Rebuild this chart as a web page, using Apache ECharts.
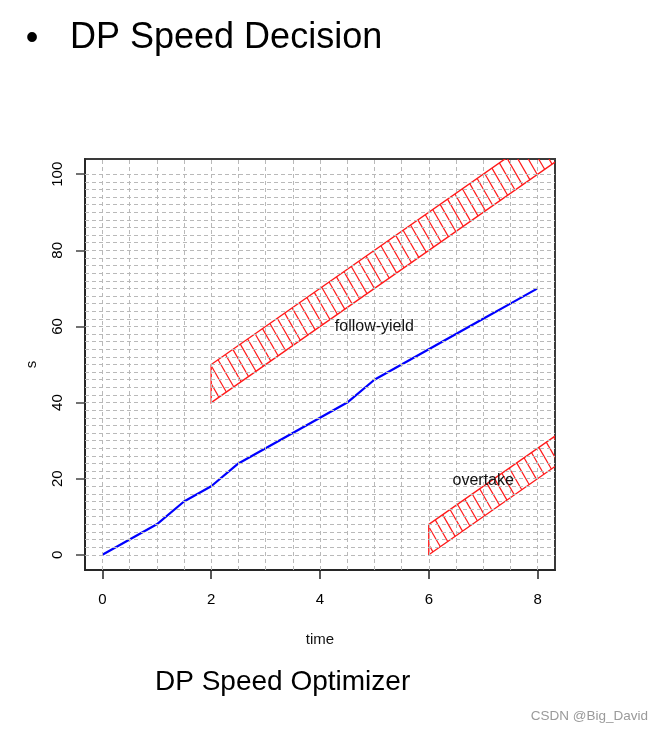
<!DOCTYPE html>
<html>
<head>
<meta charset="utf-8">
<script src="https://cdn.jsdelivr.net/npm/echarts@6/dist/echarts.min.js"></script>
<style>
  html, body { margin: 0; padding: 0; background: #fff; }
  #chart { width: 662px; height: 733px; }
</style>
</head>
<body>
<div id="chart"></div>
<script>
// ---- data ----
const timeVals = [0, 0.5, 1, 1.5, 2, 2.5, 3, 3.5, 4, 4.5, 5, 5.5, 6, 6.5, 7, 7.5, 8];
const sVals    = [0, 4, 8, 14, 18, 24, 28, 32, 36, 40, 46, 50, 54, 58, 62, 66, 70];

const followYieldT     = [2, 10];
const followYieldLower = [40, 120];
const followYieldUpper = [50, 130];

const overtakeT     = [6, 10];
const overtakeLower = [0, 40];
const overtakeUpper = [8, 48];

const xTicks = [0, 2, 4, 6, 8];
const yTicks = [0, 20, 40, 60, 80, 100];

const labelFollow   = { t: 5, s: 60, text: 'follow-yield' };
const labelOvertake = { t: 7, s: 19.5, text: 'overtake' };

// ---- helpers ----
const FONT = '"Liberation Sans", Arial, sans-serif';
const xGrid = []; for (let v = 0; v <= 8; v += 0.5) xGrid.push(v);
const yGrid = []; for (let v = 0; v <= 100; v += 2) yGrid.push(v);

function hatchSegments(poly, angleDeg, spacing) {
  const a = angleDeg * Math.PI / 180;
  const u = [Math.cos(a), Math.sin(a)];
  const n = [-u[1], u[0]];
  const proj = poly.map(p => p[0] * n[0] + p[1] * n[1]);
  const mn = Math.min.apply(null, proj), mx = Math.max.apply(null, proj);
  const segs = [];
  for (let c = Math.ceil(mn / spacing) * spacing; c <= mx; c += spacing) {
    const pts = [];
    for (let i = 0; i < poly.length; i++) {
      const j = (i + 1) % poly.length;
      const fi = proj[i] - c, fj = proj[j] - c;
      if ((fi <= 0 && fj > 0) || (fi > 0 && fj <= 0)) {
        const r = fi / (fi - fj);
        pts.push([poly[i][0] + (poly[j][0] - poly[i][0]) * r,
                  poly[i][1] + (poly[j][1] - poly[i][1]) * r]);
      }
    }
    if (pts.length >= 2) segs.push([pts[0], pts[1]]);
  }
  return segs;
}

function renderRegion(params, api) {
  const t0 = api.value(0), t1 = api.value(1);
  const lo0 = api.value(2), lo1 = api.value(3);
  const hi0 = api.value(4), hi1 = api.value(5);
  const poly = [api.coord([t0, lo0]), api.coord([t1, lo1]),
                api.coord([t1, hi1]), api.coord([t0, hi0])];
  const children = hatchSegments(poly, 60, 9).map(s => ({
    type: 'line',
    shape: { x1: s[0][0], y1: s[0][1], x2: s[1][0], y2: s[1][1] },
    style: { stroke: '#ff1a1a', lineWidth: 1.2 }
  }));
  children.push({
    type: 'polygon',
    shape: { points: poly },
    style: { fill: null, stroke: '#ff1a1a', lineWidth: 1.4 }
  });
  return { type: 'group', children: children };
}

const chart = echarts.init(document.getElementById('chart'), null, { renderer: 'canvas' });

const option = {
  animation: false,
  backgroundColor: '#ffffff',
  textStyle: { fontFamily: FONT },
  grid: {
    left: 85, right: 107, top: 159, bottom: 163,
    show: true, borderColor: '#3a3a3a', borderWidth: 2, backgroundColor: 'transparent'
  },
  xAxis: {
    type: 'value', min: -0.32, max: 8.32,
    name: 'time', nameLocation: 'middle', nameGap: 62,
    nameTextStyle: { fontSize: 15, color: '#111', fontFamily: FONT },
    axisLine: { show: true, onZero: false, lineStyle: { color: '#222', width: 1.5 } },
    axisTick: { show: true, customValues: xTicks, length: 9, lineStyle: { color: '#222', width: 1.5 } },
    axisLabel: { customValues: xTicks, fontSize: 15, color: '#000', margin: 22, fontFamily: FONT },
    splitLine: { show: false }
  },
  yAxis: {
    type: 'value', min: -4, max: 104,
    name: 's', nameLocation: 'middle', nameGap: 46,
    nameTextStyle: { fontSize: 15, color: '#111', fontFamily: FONT },
    axisLine: { show: true, onZero: false, lineStyle: { color: '#222', width: 1.5 } },
    axisTick: { show: true, customValues: yTicks, length: 9, lineStyle: { color: '#444', width: 1.5 } },
    axisLabel: { customValues: yTicks, rotate: 90, fontSize: 15, color: '#000', margin: 20, fontFamily: FONT },
    splitLine: { show: false }
  },
  graphic: [
    { type: 'text', style: { text: '•', x: 32, y: 39, font: '36px ' + FONT, fill: '#000', align: 'center', verticalAlign: 'middle' } },
    { type: 'text', style: { text: 'DP Speed Decision', x: 70, y: 38, font: '36px ' + FONT, fill: '#000', align: 'left', verticalAlign: 'middle' } },
    { type: 'text', style: { text: 'DP Speed Optimizer', x: 155, y: 682, font: '28px ' + FONT, fill: '#000', align: 'left', verticalAlign: 'middle' } },
    { type: 'text', style: { text: 'CSDN @Big_David', x: 648, y: 716, font: '13.5px ' + FONT, fill: '#9a9a9a', align: 'right', verticalAlign: 'middle' } }
  ],
  series: [
    {
      name: 'grid', type: 'line', data: [], z: 1, silent: true,
      markLine: {
        silent: true, symbol: 'none', animation: false,
        label: { show: false },
        lineStyle: { type: [4, 3], color: '#b9b9b9', width: 1 },
        emphasis: { disabled: true },
        data: xGrid.map(v => ({ xAxis: v })).concat(yGrid.map(v => ({ yAxis: v })))
      }
    },
    {
      name: 'follow-yield', type: 'custom', z: 3, clip: true, silent: true,
      renderItem: renderRegion,
      encode: { x: [0, 1], y: [2, 3, 4, 5] },
      data: [[followYieldT[0], followYieldT[1], followYieldLower[0], followYieldLower[1], followYieldUpper[0], followYieldUpper[1]]]
    },
    {
      name: 'overtake', type: 'custom', z: 3, clip: true, silent: true,
      renderItem: renderRegion,
      encode: { x: [0, 1], y: [2, 3, 4, 5] },
      data: [[overtakeT[0], overtakeT[1], overtakeLower[0], overtakeLower[1], overtakeUpper[0], overtakeUpper[1]]]
    },
    {
      name: 's(t)', type: 'line', z: 4, showSymbol: false, symbol: 'none',
      lineStyle: { color: '#0000ff', width: 2.2 },
      data: timeVals.map((t, i) => [t, sVals[i]])
    },
    {
      name: 'labels', type: 'scatter', z: 5, symbolSize: 0, silent: true,
      itemStyle: { color: 'rgba(0,0,0,0)' },
      label: { show: true, position: 'inside', formatter: '{b}', fontSize: 16, color: '#111', opacity: 1, fontFamily: FONT },
      data: [
        { name: labelFollow.text, value: [labelFollow.t, labelFollow.s] },
        { name: labelOvertake.text, value: [labelOvertake.t, labelOvertake.s] }
      ]
    }
  ]
};
chart.setOption(option);
</script>
</body>
</html>
